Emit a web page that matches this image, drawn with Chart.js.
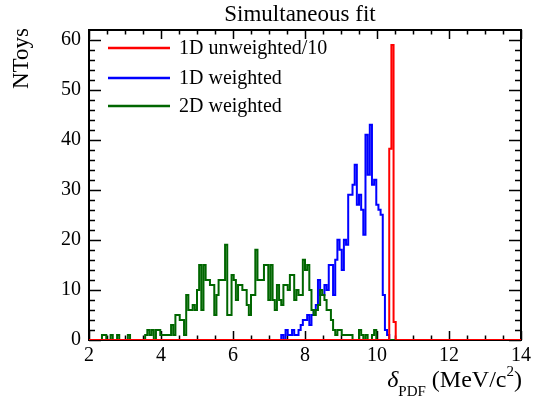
<!DOCTYPE html>
<html><head><meta charset="utf-8">
<script src="https://cdn.jsdelivr.net/npm/chart.js@4.4.1/dist/chart.umd.min.js"></script>
<style>html,body{margin:0;padding:0;background:#fff}#wrap{width:535px;height:401px}</style>
</head><body><div id="wrap"><canvas id="c" width="535" height="401"></canvas></div>
<script>
// ---- data ----
const binLow = 2;
const binWidth = 0.06;
const xTickLabels = [2, 4, 6, 8, 10, 12, 14];
const yTickLabels = [0, 10, 20, 30, 40, 50, 60];
const seriesNames = ['1D unweighted/10', '1D weighted', '2D weighted'];
const seriesColors = ['#ff0000', '#0000ff', '#006600'];

const redFirstBin = 139;
const redCounts = [38.2, 58.9, 3.6];

const blueFirstBin = 89;
const blueCounts = [
  1, 0, 2, 1, 1,   2, 1, 1, 2, 3,   4, 4, 5, 3, 5,   6, 7, 12, 9, 9,
  11, 10, 15, 15, 9,   16, 20, 18, 14, 20,   19, 29, 29, 31, 35,   27, 29, 26, 21, 41,
  33, 43, 31, 32, 27,   26, 25, 9, 2, 1
];

const greenFirstBin = 0;
const greenCounts = [
  0, 0, 0, 0, 0,   0, 1, 1, 0, 0,   1, 0, 0, 1, 0,   0, 0, 0, 1, 0,
  0, 0, 0, 0, 0,   0, 1, 2, 1, 2,   0, 2, 2, 1, 1,   1, 1, 1, 3, 1,
  5, 5, 4, 4, 1,   9, 6, 6, 7, 6,   10, 15, 6, 15, 12,   12, 11, 11, 5, 9,
  12, 12, 12, 19, 5,   5, 13, 12, 8, 11,   11, 10, 10, 7, 5,   9, 9, 18, 12, 12,
  12, 15, 15, 8, 15,   8, 6, 11, 8, 7,   11, 11, 10, 13, 13,   8, 10, 9, 9, 16,
  14, 15, 10, 6, 5,   6, 7, 10, 9, 8,   6, 6, 4, 2, 1,   2, 2, 1, 1, 1,
  1, 1, 0, 0, 0,   2, 1, 0, 1, 0,   0, 1, 2, 0, 0
];

// ---- build histogram step points ----
function histPoints(first, counts) {
  const pts = [{x: xTickLabels[0], y: 0}];
  counts.forEach((c, i) => pts.push({x: binLow + (first + i) * binWidth, y: c}));
  pts.push({x: binLow + (first + counts.length) * binWidth, y: 0});
  pts.push({x: xTickLabels[xTickLabels.length - 1], y: 0});
  return pts;
}

const SERIF = '"Liberation Serif", "Times New Roman", serif';

const decor = {
  id: 'decor',
  beforeDatasetsDraw(chart) {
    const {ctx, chartArea: a, scales: {x, y}} = chart;
    ctx.save();
    ctx.strokeStyle = '#000';
    ctx.lineWidth = 2;
    ctx.strokeRect(a.left, a.top, a.right - a.left, a.bottom - a.top);
    ctx.lineWidth = 1.5;
    ctx.beginPath();
    for (let v = 0; v <= y.max + 1e-9; v += 2) {
      const py = Math.round(y.getPixelForValue(v)) + 0.5;
      const len = (v % 10 === 0) ? 12 : 6;
      ctx.moveTo(a.left, py); ctx.lineTo(a.left + len, py);
      ctx.moveTo(a.right, py); ctx.lineTo(a.right - len, py);
    }
    for (let v = x.min; v <= x.max + 1e-9; v += 0.5) {
      const px = Math.round(x.getPixelForValue(v)) + 0.5;
      const len = (Math.abs(v % 2) < 1e-9) ? 9 : 4.5;
      ctx.moveTo(px, a.bottom); ctx.lineTo(px, a.bottom - len);
      ctx.moveTo(px, a.top); ctx.lineTo(px, a.top + len);
    }
    ctx.stroke();
    ctx.restore();
  },
  afterDraw(chart) {
    const {ctx, chartArea: a} = chart;
    ctx.save();
    ctx.fillStyle = '#000';
    ctx.font = '23px ' + SERIF;
    ctx.textAlign = 'center';
    ctx.textBaseline = 'alphabetic';
    ctx.fillText('Simultaneous fit', 300, 20.5);
    ctx.save();
    ctx.translate(28, a.top - 2);
    ctx.rotate(-Math.PI / 2);
    ctx.textAlign = 'right';
    ctx.font = '23px ' + SERIF;
    ctx.fillText('NToys', 0, 0);
    ctx.restore();
    const big = '24px ' + SERIF, bigI = 'italic 24px ' + SERIF, small = '15px ' + SERIF;
    const parts = [
      {t: 'δ', f: bigI, dy: 0},
      {t: 'PDF', f: small, dy: 9},
      {t: ' (MeV/c', f: big, dy: 0},
      {t: '2', f: small, dy: -11},
      {t: ')', f: big, dy: 0}
    ];
    let total = 0;
    parts.forEach(p => { ctx.font = p.f; p.w = ctx.measureText(p.t).width; total += p.w; });
    let cx = a.right + 1 - total;
    ctx.textAlign = 'left';
    parts.forEach(p => { ctx.font = p.f; ctx.fillText(p.t, cx, 387 + p.dy); cx += p.w; });
    const rows = [48, 78, 106];
    ctx.font = '20px ' + SERIF;
    ctx.textBaseline = 'middle';
    seriesNames.forEach((name, i) => {
      ctx.strokeStyle = seriesColors[i];
      ctx.lineWidth = 2.5;
      ctx.beginPath();
      ctx.moveTo(a.left + 19, rows[i]);
      ctx.lineTo(a.left + 81, rows[i]);
      ctx.stroke();
      ctx.fillStyle = '#000';
      ctx.fillText(name, a.left + 90, rows[i] + 1);
    });
    ctx.restore();
  }
};

const mk = (i, first, counts, order) => ({
  label: seriesNames[i],
  data: histPoints(first, counts),
  borderColor: seriesColors[i],
  backgroundColor: seriesColors[i],
  borderWidth: 2,
  stepped: true,
  pointRadius: 0,
  fill: false,
  tension: 0,
  order: order
});

new Chart(document.getElementById('c'), {
  type: 'line',
  data: {
    datasets: [
      mk(0, redFirstBin, redCounts, 0),
      mk(1, blueFirstBin, blueCounts, 2),
      mk(2, greenFirstBin, greenCounts, 1)
    ]
  },
  options: {
    responsive: false,
    animation: false,
    events: [],
    layout: {padding: {top: 30, right: 10, left: 0, bottom: 0}},
    plugins: {legend: {display: false}, title: {display: false}, tooltip: {enabled: false}},
    scales: {
      x: {
        type: 'linear', min: 2, max: 14,
        afterBuildTicks: s => { s.ticks = xTickLabels.map(v => ({value: v})); },
        afterFit: s => { s.height = 61; },
        grid: {display: false, drawTicks: false},
        border: {display: false},
        ticks: {color: '#000', font: {family: SERIF, size: 20}, padding: 4, maxRotation: 0, autoSkip: false}
      },
      y: {
        type: 'linear', min: 0, max: 61.9,
        afterBuildTicks: s => { s.ticks = yTickLabels.map(v => ({value: v})); },
        afterFit: s => { s.width = 89; },
        grid: {display: false, drawTicks: false},
        border: {display: false},
        ticks: {color: '#000', font: {family: SERIF, size: 20}, padding: 8}
      }
    }
  },
  plugins: [decor]
});
</script></body></html>
